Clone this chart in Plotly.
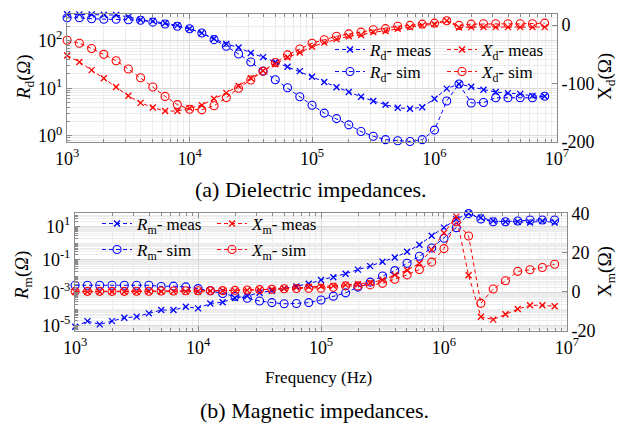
import plotly.graph_objects as go

# ---------------- data ----------------
freq = [1000, 1259, 1585, 1995, 2512, 3162, 3981, 5012, 6310, 7943,
        10000, 12589, 15849, 19953, 25119, 31623, 39811, 50119, 63096, 79433,
        100000, 125893, 158489, 199526, 251189, 316228, 398107, 501187, 630957, 794328,
        1000000, 1258925, 1584893, 1995262, 2511886, 3162278, 3981072, 5011872, 6309573, 7943282]

# (a) dielectric
Rd_meas = [359, 357, 354, 350, 345, 316, 275, 257, 234, 209,
           178, 145, 110, 85, 72, 55, 45, 35.5, 28.2, 22.9,
           17.4, 13.5, 10.5, 8.3, 6.6, 5.4, 4.5, 3.9, 3.7, 4.0,
           6.0, 9.8, 12.3, 10.7, 9.3, 8.3, 7.9, 7.6, 6.9, 6.8]
Rd_sim = [302, 302, 288, 282, 282, 275, 269, 245, 224, 200,
          178, 145, 105, 76, 52.5, 35.5, 22.9, 15.1, 10.2, 6.6,
          4.4, 3.0, 2.3, 1.70, 1.23, 0.98, 0.83, 0.79, 0.76, 0.83,
          1.32, 5.4, 12.3, 4.9, 5.0, 6.3, 6.3, 6.3, 6.3, 6.8]
Xd_meas = [-52, -63, -77, -91, -106, -121, -133, -141, -147, -147,
           -142, -137, -126, -116, -104, -91, -78, -67, -55, -47,
           -37, -30, -24, -19, -17, -12, -10, -6.3, -3.4, -0.5,
           1.5, 7.4, -4, -3.4, -3.4, -3.4, -3.4, -3.4, -3.4, -3.4]
Xd_sim = [-26, -31, -40, -50, -61, -75, -90, -106, -122, -136,
          -144, -145, -138, -124, -108, -94, -79, -64, -51, -41,
          -31, -25, -19, -15, -12, -8, -6, -2, -0.5, 1.7,
          3.4, 7.4, -0.5, 1.7, 2.2, 2.2, 2.2, 2.2, 2.2, 3.4]

# (b) magnetic
Rm_meas_exp = [-5.06, -4.72, -4.92, -4.72, -4.52, -4.45, -4.25, -4.05, -4.05, -3.85,
               -3.95, -3.65, -3.58, -3.32, -3.2, -3.0, -2.88, -2.75, -2.62, -2.46,
               -2.23, -2.06, -1.85, -1.6, -1.39, -1.12, -0.87, -0.52, -0.1, 0.45,
               0.94, 1.45, 1.80, 1.55, 1.36, 1.30, 1.30, 1.25, 1.34, 1.25]
Rm_sim_exp = [-2.55, -2.55, -2.55, -2.55, -2.55, -2.55, -2.55, -2.62, -2.6, -2.65,
              -2.75, -2.88, -3.05, -3.22, -3.34, -3.5, -3.6, -3.67, -3.65, -3.6,
              -3.44, -3.21, -3.01, -2.66, -2.36, -1.99, -1.66, -1.22, -0.79, -0.29,
              0.3, 0.94, 1.79, 1.47, 1.30, 1.30, 1.34, 1.40, 1.40, 1.40]
Rm_meas = [10 ** e for e in Rm_meas_exp]
Rm_sim = [10 ** e for e in Rm_sim_exp]
Xm_meas = [0.0, 0.0, 0.0, 0.0, 0.0, 0.0, 0.1, 0.1, 0.2, 0.2,
           0.3, 0.4, 0.5, 0.6, 0.8, 1.0, 1.3, 1.7, 2.1, 2.6,
           2.8, 3.0, 3.5, 3.8, 4.6, 6.0, 8.6, 11.0, 14.5, 21.5,
           30.0, 38.3, 8.4, -12.7, -14.2, -11.5, -8.8, -6.9, -6.9, -7.4]
Xm_sim = [0.2, 0.2, 0.2, 0.2, 0.2, 0.3, 0.3, 0.4, 0.4, 0.5,
          0.5, 0.6, 0.6, 0.7, 0.9, 1.1, 1.3, 1.5, 1.7, 1.8,
          1.8, 2.3, 3.0, 3.0, 3.5, 4.3, 6.4, 8.6, 11.3, 15.1,
          22.0, 35.7, 28.4, -5.9, 1.4, 5.6, 10.4, 11.2, 12.4, 14.0]

x_tickvals = [1e3, 1e4, 1e5, 1e6, 1e7]
x_ticktext = ["10<sup>3</sup>", "10<sup>4</sup>", "10<sup>5</sup>", "10<sup>6</sup>", "10<sup>7</sup>"]
rd_tickvals = [1, 10, 100]
rd_ticktext = ["10<sup>0</sup>", "10<sup>1</sup>", "10<sup>2</sup>"]
xd_tickvals = [-200, -100, 0]
xd_ticktext = ["-200", "-100", "0"]
rm_tickvals = [1e-5, 1e-3, 1e-1, 10]
rm_ticktext = ["10<sup>-5</sup>", "10<sup>-3</sup>", "10<sup>-1</sup>", "10<sup>1</sup>"]
xm_tickvals = [-20, 0, 20, 40]
xm_ticktext = ["-20", "0", "20", "40"]

# ---------------- styling ----------------
W, H = 618, 428
FONT = "Liberation Serif"
BLUE, RED = "#0000ff", "#ff0000"
AXC = "#8a8a8a"
GRID = "#d9d9d9"
MGRID = "#ececec"


def px(x):
    return x / W


def py(y):
    return 1 - y / H


fig = go.Figure()


def add(x, y, color, sym, name, xa, ya, leg):
    if sym == "x":
        marker = dict(symbol="x-thin-open", size=6, color=color, line=dict(width=1.3, color=color))
    else:
        marker = dict(symbol="circle-open", size=8, color=color, line=dict(width=1.1, color=color))
    fig.add_trace(go.Scatter(
        x=x, y=y, mode="lines+markers", name=name,
        line=dict(color=color, width=1, dash="4px,3px"),
        marker=marker, xaxis=xa, yaxis=ya, legend=leg, cliponaxis=False))


add(freq, Rd_meas, BLUE, "x", "<i>R</i><sub>d</sub>- meas", "x", "y", "legend")
add(freq, Rd_sim, BLUE, "o", "<i>R</i><sub>d</sub>- sim", "x", "y", "legend2")
add(freq, Xd_meas, RED, "x", "<i>X</i><sub>d</sub>- meas", "x", "y2", "legend3")
add(freq, Xd_sim, RED, "o", "<i>X</i><sub>d</sub>- sim", "x", "y2", "legend4")
add(freq, Rm_meas, BLUE, "x", "<i>R</i><sub>m</sub>- meas", "x2", "y3", "legend5")
add(freq, Rm_sim, BLUE, "o", "<i>R</i><sub>m</sub>- sim", "x2", "y3", "legend6")
add(freq, Xm_meas, RED, "x", "<i>X</i><sub>m</sub>- meas", "x2", "y4", "legend7")
add(freq, Xm_sim, RED, "o", "<i>X</i><sub>m</sub>- sim", "x2", "y4", "legend8")

tickfont = dict(family=FONT, size=18, color="#000")


def xaxis_cfg(domain, anchor):
    return dict(type="log", range=[2.999, 7.0005], domain=domain, anchor=anchor,
                tickmode="array", tickvals=x_tickvals, ticktext=x_ticktext,
                tickfont=tickfont, ticks="inside", ticklen=5, tickcolor=AXC,
                showline=True, linecolor=AXC, linewidth=1, mirror="ticks",
                showgrid=True, gridcolor=GRID, zeroline=False, automargin=False,
                minor=dict(dtick="D1", showgrid=True, gridcolor=MGRID,
                           ticks="inside", ticklen=3, tickcolor=AXC))


def ylog_cfg(domain, anchor, rng, tv, tt):
    return dict(type="log", range=rng, domain=domain, anchor=anchor,
                tickmode="array", tickvals=tv, ticktext=tt,
                tickfont=tickfont, ticks="inside", ticklen=5, tickcolor=AXC,
                showline=True, linecolor=AXC, linewidth=1,
                showgrid=True, gridcolor=GRID, zeroline=False, automargin=False,
                minor=dict(dtick="D1", showgrid=True, gridcolor=MGRID,
                           ticks="inside", ticklen=3, tickcolor=AXC))


def yright_cfg(over, anchor, rng, tv, tt):
    return dict(overlaying=over, side="right", anchor=anchor, range=rng,
                tickmode="array", tickvals=tv, ticktext=tt,
                tickfont=tickfont, ticks="inside", ticklen=5, tickcolor=AXC,
                showline=True, linecolor=AXC, linewidth=1, automargin=False,
                showgrid=False, zeroline=False)


top_dom_x = [px(67), px(557)]
top_dom_y = [py(142), py(14)]
bot_dom_x = [px(75), px(567)]
bot_dom_y = [py(331), py(213.3)]

legfont = dict(family=FONT, size=17, color="#000")


def leg(x, y):
    return dict(x=px(x), y=py(y), xanchor="left", yanchor="middle",
                bgcolor="rgba(0,0,0,0)", borderwidth=0, font=legfont,
                itemwidth=30, tracegroupgap=0)


fig.update_layout(
    width=W, height=H, margin=dict(l=0, r=0, t=0, b=0, pad=0, autoexpand=False),
    paper_bgcolor="white", plot_bgcolor="white",
    font=dict(family=FONT, size=17, color="#000"),
    xaxis=xaxis_cfg(top_dom_x, "y"),
    yaxis=ylog_cfg(top_dom_y, "x", [-0.13, 2.56], rd_tickvals, rd_ticktext),
    yaxis2=yright_cfg("y", "x", [-200, 19], xd_tickvals, xd_ticktext),
    xaxis2=xaxis_cfg(bot_dom_x, "y3"),
    yaxis3=ylog_cfg(bot_dom_y, "x2", [-5.32, 1.81], rm_tickvals, rm_ticktext),
    yaxis4=yright_cfg("y3", "x2", [-20, 40], xm_tickvals, xm_ticktext),
    legend=leg(330, 50), legend2=leg(330, 72),
    legend3=leg(442, 50), legend4=leg(442, 72),
    legend5=leg(97, 224), legend6=leg(97, 250),
    legend7=leg(212, 224), legend8=leg(212, 250),
    showlegend=True,
)

ann = [
    dict(text="<i>R</i><sub>d</sub>(<i>Ω</i>)", x=px(25), y=py(77), textangle=-90, size=19),
    dict(text="X<sub>d</sub>(Ω)", x=px(606), y=py(77), textangle=-90, size=19),
    dict(text="<i>R</i><sub>m</sub>(<i>Ω</i>)", x=px(23), y=py(276), textangle=-90, size=19),
    dict(text="X<sub>m</sub>(Ω)", x=px(606), y=py(272), textangle=-90, size=19),
    dict(text="(a) Dielectric impedances.", x=px(310), y=py(189), textangle=0, size=22),
    dict(text="Frequency (Hz)", x=px(318), y=py(377), textangle=0, size=17),
    dict(text="(b) Magnetic impedances.", x=px(314), y=py(410), textangle=0, size=22),
]
for a in ann:
    fig.add_annotation(text=a["text"], x=a["x"], y=a["y"], xref="paper", yref="paper",
                       xanchor="center", yanchor="middle", showarrow=False,
                       textangle=a["textangle"], font=dict(family=FONT, size=a["size"], color="#000"))

fig.write_html("out.html", config={"displayModeBar": False},
               post_script="document.body.style.margin='0';document.body.style.padding='0';"
                           "document.documentElement.style.overflow='hidden';")
